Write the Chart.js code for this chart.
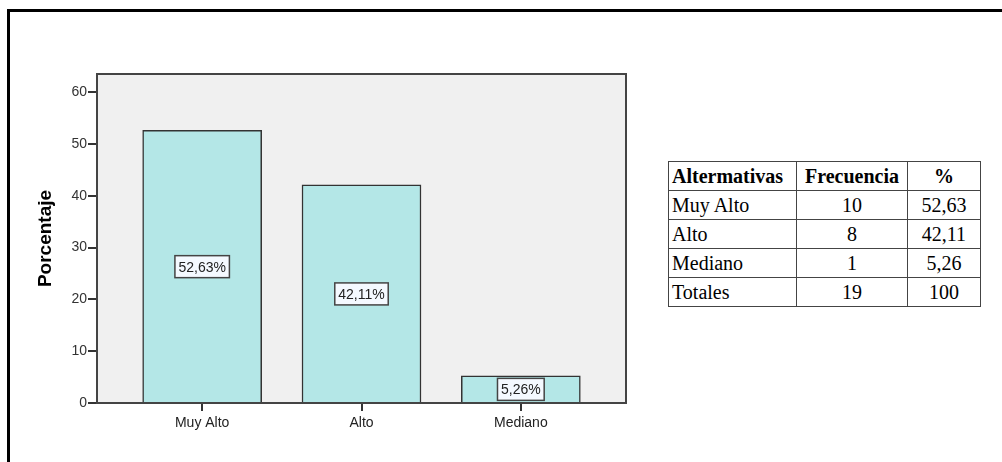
<!DOCTYPE html>
<html>
<head>
<meta charset="utf-8">
<script src="https://cdn.jsdelivr.net/npm/chart.js@4"></script>
<style>
  body { margin: 0; background: #fff; width: 1002px; height: 462px; overflow: hidden; position: relative; }
  #frame { position: absolute; left: 7px; top: 9px; width: 995px; height: 453px;
           border-top: 3px solid #000; border-left: 3px solid #000; box-sizing: border-box; }
  #wrap { position: absolute; left: 0; top: 0; width: 660px; height: 462px; }
  #tbl { position: absolute; left: 668px; top: 161px; border-collapse: collapse;
         font-family: "Liberation Serif", "Times New Roman", serif; font-size: 20px; color: #000; }
  #tbl td, #tbl th { border: 1px solid #444; height: 28px; padding: 0 3px; line-height: 26px; }
  #tbl th { font-weight: bold; }
  #tbl th:first-child, #tbl td:first-child { text-align: left; }
  #tbl td:not(:first-child), #tbl th:not(:first-child) { text-align: center; }
</style>
</head>
<body>
<div id="frame"></div>
<div id="wrap"><canvas id="barChart"></canvas></div>
<table id="tbl"></table>
<script>
// data
const categories = ['Muy Alto', 'Alto', 'Mediano'];
const percentages = [52.63, 42.11, 5.26];
const percentLabels = ['52,63%', '42,11%', '5,26%'];
const yTicks = [0, 10, 20, 30, 40, 50, 60];

const tableHeaders = ['Altermativas', 'Frecuencia', '%'];
const tableRows = ['Muy Alto', 'Alto', 'Mediano', 'Totales'];
const frequencies = ['10', '8', '1', '19'];
const tablePercents = ['52,63', '42,11', '5,26', '100'];

// table on the right
const tbl = document.getElementById('tbl');
const colWidths = [128, 111, 73];
let html = '<tr>' + tableHeaders.map((h, i) => `<th style="width:${colWidths[i] - 7}px">${h}</th>`).join('') + '</tr>';
tableRows.forEach((r, i) => {
    html += `<tr><td>${r}</td><td>${frequencies[i]}</td><td>${tablePercents[i]}</td></tr>`;
});
tbl.innerHTML = html;

const FONT = '"Liberation Sans", Arial, sans-serif';

const plotArea = {
    id: 'plotArea',
    beforeDatasetsDraw(chart) {
        const { ctx, chartArea: a } = chart;
        ctx.save();
        ctx.fillStyle = '#f0f0f0';
        ctx.fillRect(a.left, a.top, a.right - a.left, a.bottom - a.top);
        ctx.restore();
    },
    afterDatasetsDraw(chart) {
        const { ctx, chartArea: a } = chart;
        ctx.save();
        ctx.strokeStyle = '#444';
        ctx.lineWidth = 2;
        ctx.strokeRect(a.left, a.top, a.right - a.left, a.bottom - a.top);

        // value boxes in the middle of each bar
        const meta = chart.getDatasetMeta(0);
        const ys = chart.scales.y;
        ctx.font = '14px ' + FONT;
        ctx.textAlign = 'center';
        ctx.textBaseline = 'middle';
        meta.data.forEach((bar, i) => {
            const cy = ys.getPixelForValue(percentages[i] / 2);
            const w = ctx.measureText(percentLabels[i]).width + 7;
            const h = 22;
            ctx.fillStyle = '#f4f9ff';
            ctx.fillRect(bar.x - w / 2, cy - h / 2, w, h);
            ctx.strokeStyle = '#444';
            ctx.lineWidth = 1.5;
            ctx.strokeRect(bar.x - w / 2, cy - h / 2, w, h);
            ctx.fillStyle = '#222';
            ctx.fillText(percentLabels[i], bar.x, cy + 1);
        });
        ctx.restore();
    }
};

new Chart(document.getElementById('barChart').getContext('2d'), {
    type: 'bar',
    data: {
        datasets: [{
            data: percentages.map((v, i) => ({ x: i, y: v })),
            backgroundColor: '#b4e7e7',
            borderColor: '#333',
            borderWidth: 1.5,
            barThickness: 119
        }]
    },
    options: {
        responsive: true,
        maintainAspectRatio: false,
        animation: false,
        layout: { padding: { top: 74, right: 34, left: 0, bottom: 0 } },
        plugins: { legend: { display: false }, tooltip: { enabled: false } },
        scales: {
            x: {
                type: 'linear',
                offset: false,
                min: -0.66,
                max: 2.66,
                afterBuildTicks: (s) => { s.ticks = categories.map((c, i) => ({ value: i })); },
                afterFit: (s) => { s.height = 59; },
                border: { display: false },
                grid: { offset: false, drawOnChartArea: false, drawTicks: true, tickLength: 8, tickColor: '#333', lineWidth: 2 },
                ticks: {
                    callback: (v) => categories[v],
                    color: '#222',
                    padding: 4,
                    maxRotation: 0,
                    font: { family: FONT, size: 14 }
                }
            },
            y: {
                min: 0,
                max: 63.5,
                afterBuildTicks: (s) => { s.ticks = yTicks.map(v => ({ value: v })); },
                afterFit: (s) => { s.width = 97; },
                border: { display: false },
                grid: { drawOnChartArea: false, drawTicks: true, tickLength: 9, tickColor: '#333', lineWidth: 2 },
                ticks: {
                    color: '#333',
                    padding: 1,
                    font: { family: FONT, size: 14 }
                },
                title: {
                    display: true,
                    text: 'Porcentaje',
                    color: '#000',
                    padding: { top: 34, bottom: 0 },
                    font: { family: FONT, size: 19, weight: 'bold' }
                }
            }
        }
    },
    plugins: [plotArea]
});
</script>
</body>
</html>
